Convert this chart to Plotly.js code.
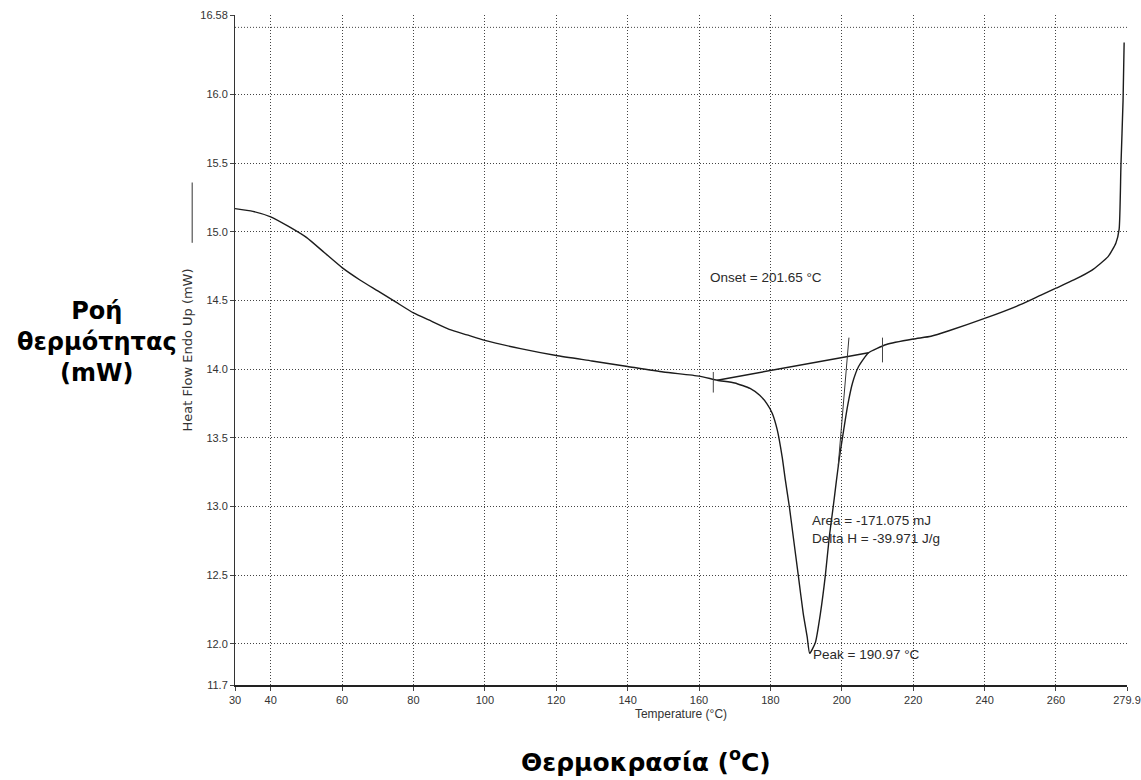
<!DOCTYPE html>
<html>
<head>
<meta charset="utf-8">
<script src="https://cdn.plot.ly/plotly-3.0.1.min.js"></script>
<style>html,body{margin:0;padding:0;background:#fff;}#chart{width:1141px;height:780px;}</style>
</head>
<body>
<div id="chart"></div>
<script>
// DSC curve: temperature (°C) and heat flow (mW)
var temperature = [30, 35, 40, 45, 50, 55, 60, 65, 70, 75, 80, 85, 90, 95, 100, 110, 120, 130, 140, 150, 160, 165.1,
  170, 174.3, 177.0, 179.0, 180.5, 181.9, 183.3, 184.2, 185.3, 186.4, 187.8, 189.2, 190.3, 191.0,
  192.6, 194.0, 195.4, 196.5, 197.6, 198.5, 199.3, 200.3, 201.6, 203.0, 204.7, 207.5,
  212.5, 220, 225, 230, 240, 250, 255.8, 260, 265, 270, 274.6, 276.8, 277.7, 278.2, 278.8, 279.1];
var heatFlow = [15.17, 15.15, 15.11, 15.04, 14.96, 14.85, 14.74, 14.65, 14.57, 14.49, 14.41, 14.35, 14.29, 14.25, 14.21, 14.15, 14.10, 14.06, 14.02, 13.98, 13.95, 13.92,
  13.90, 13.86, 13.81, 13.75, 13.68, 13.56, 13.36, 13.19, 13.00, 12.78, 12.50, 12.22, 12.05, 11.93,
  12.01, 12.22, 12.50, 12.78, 13.00, 13.19, 13.35, 13.52, 13.73, 13.90, 14.02, 14.12,
  14.18, 14.22, 14.24, 14.28, 14.37, 14.47, 14.54, 14.59, 14.65, 14.72, 14.82, 14.92, 15.02, 15.48, 15.96, 16.38];

// Integration baseline
var baselineT = [165.1, 207.5];
var baselineHF = [13.92, 14.12];

// Onset tangent on the rising edge
var tangentT = [202.0, 199.0];
var tangentHF = [14.23, 13.30];

// Integration limit markers
var limitT = [164.0, 164.0, null, 211.4, 211.4];
var limitHF = [13.83, 13.98, null, 14.05, 14.23];

// Axis ticks
var xTicks = [30, 40, 60, 80, 100, 120, 140, 160, 180, 200, 220, 240, 260, 279.9];
var xTickText = ['30', '40', '60', '80', '100', '120', '140', '160', '180', '200', '220', '240', '260', '279.9'];
var yTicks = [11.7, 12.0, 12.5, 13.0, 13.5, 14.0, 14.5, 15.0, 15.5, 16.0, 16.58];
var yTickText = ['11.7', '12.0', '12.5', '13.0', '13.5', '14.0', '14.5', '15.0', '15.5', '16.0', '16.58'];

// Instrument frame line just under the top edge
var frameLineHF = 16.49;

// Result labels
var onsetText = 'Onset = 201.65 °C';
var areaText = 'Area = -171.075 mJ';
var deltaHText = 'Delta H = -39.971 J/g';
var peakText = 'Peak = 190.97 °C';

var traces = [
  {x: temperature, y: heatFlow, type: 'scatter', mode: 'lines', line: {color: '#1c1c1c', width: 1.4, shape: 'spline', smoothing: 0.5}},
  {x: baselineT, y: baselineHF, type: 'scatter', mode: 'lines', line: {color: '#1c1c1c', width: 1.4}},
  {x: tangentT, y: tangentHF, type: 'scatter', mode: 'lines', line: {color: '#333', width: 1}},
  {x: limitT, y: limitHF, type: 'scatter', mode: 'lines', line: {color: '#444', width: 1}}
];

var fontSmall = {family: 'Liberation Sans, Arial, sans-serif', size: 11, color: '#333'};
var annFont = {family: 'Liberation Sans, Arial, sans-serif', size: 13.5, color: '#2a2a2a'};
var bigFont = {family: 'DejaVu Sans, Liberation Sans, sans-serif', size: 25, color: '#000'};

var layout = {
  width: 1141, height: 780,
  margin: {l: 235, r: 14, t: 15, b: 95},
  paper_bgcolor: '#fff', plot_bgcolor: '#fff',
  showlegend: false,
  xaxis: {
    range: [30, 279.9], tickmode: 'array', tickvals: xTicks, ticktext: xTickText,
    showgrid: true, gridcolor: '#444', griddash: '1px,2px', gridwidth: 1,
    showline: true, linecolor: '#222', linewidth: 1.5,
    ticks: 'outside', ticklen: 4, tickcolor: '#444',
    tickfont: fontSmall, zeroline: false,
    title: {text: 'Temperature (°C)', font: {family: 'Liberation Sans, Arial, sans-serif', size: 12, color: '#333'}, standoff: 5}
  },
  yaxis: {
    range: [11.7, 16.58], tickmode: 'array', tickvals: yTicks, ticktext: yTickText,
    showgrid: true, gridcolor: '#444', griddash: '1px,2px', gridwidth: 1,
    showline: true, linecolor: '#333', linewidth: 1,
    ticks: 'outside', ticklen: 4, tickcolor: '#444',
    tickfont: fontSmall, zeroline: false,
    title: {text: 'Heat Flow Endo Up (mW)', font: {family: 'DejaVu Sans, Liberation Sans, sans-serif', size: 13, color: '#333'}, standoff: 4}
  },
  shapes: [
    {type: 'line', xref: 'paper', yref: 'paper', x0: -0.048, x1: -0.048, y0: 0.66, y1: 0.75, line: {color: '#333', width: 1}},
    {type: 'line', xref: 'paper', yref: 'y', x0: 0, x1: 1, y0: frameLineHF, y1: frameLineHF, line: {color: '#444', width: 1, dash: '1px,2px'}}
  ],
  annotations: [
    {x: 162.5, y: 14.665, xref: 'x', yref: 'y', text: onsetText, showarrow: false, xanchor: 'left', yanchor: 'middle', font: annFont},
    {x: 191.1, y: 12.90, xref: 'x', yref: 'y', text: areaText, showarrow: false, xanchor: 'left', yanchor: 'middle', font: annFont},
    {x: 191.1, y: 12.77, xref: 'x', yref: 'y', text: deltaHText, showarrow: false, xanchor: 'left', yanchor: 'middle', font: annFont},
    {x: 191.4, y: 11.92, xref: 'x', yref: 'y', text: peakText, showarrow: false, xanchor: 'left', yanchor: 'middle', font: annFont},
    {x: -0.1547, y: 0.512, xref: 'paper', yref: 'paper', text: '<b>Ροή<br>θερμότητας<br>(mW)</b>', showarrow: false, xanchor: 'center', yanchor: 'middle', align: 'center', font: {family: 'DejaVu Sans, Liberation Sans, sans-serif', size: 24, color: '#000'}},
    {x: 0.461, y: -0.112, xref: 'paper', yref: 'paper', text: '<b>Θερμοκρασία (<sup>o</sup>C)</b>', showarrow: false, xanchor: 'center', yanchor: 'middle', font: bigFont}
  ]
};

Plotly.newPlot('chart', traces, layout, {displayModeBar: false, responsive: false});
</script>
</body>
</html>
